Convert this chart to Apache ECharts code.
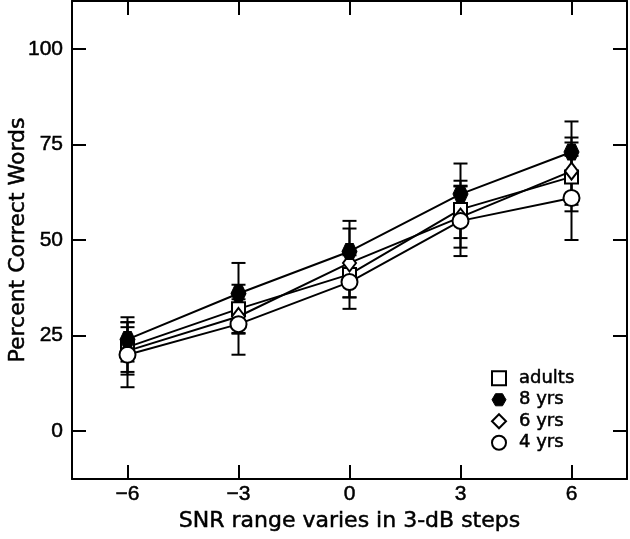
<!DOCTYPE html>
<html>
<head>
<meta charset="utf-8">
<script src="https://cdn.jsdelivr.net/npm/echarts@6/dist/echarts.min.js"></script>
<style>
html,body{margin:0;padding:0;background:#fff;}
#chart{width:630px;height:539px;}
</style>
</head>
<body>
<div id="chart"></div>
<script>
// ---- data ----
const xValues = [-6, -3, 0, 3, 6];
const xTicks = [-6, -3, 0, 3, 6];
const yTicks = [0, 25, 50, 75, 100];

const adults = [22, 32, 41, 58, 66.5];
const yrs8   = [24, 36, 47, 62, 73];
const yrs6   = [21, 30, 44, 56, 68];
const yrs4   = [20, 28, 39, 55, 61];

const adultsErr = [6.5, 6.3, 6, 7.5, 9];
const yrs8Err   = [5.8, 8, 8, 8, 8];
const yrs6Err   = [6.2, 4.5, 9, 8, 8.8];
const yrs4Err   = [8.5, 8, 7, 9.2, 11];

const groupNames = ['adults', '8 yrs', '6 yrs', '4 yrs'];

// ---- chart ----
const hexPath = 'path://M-5,-8.66 L5,-8.66 L10,0 L5,8.66 L-5,8.66 L-10,0 Z';
const FONT = 'DejaVu Sans';
const TICKFONT = 'Liberation Sans';

function pts(vals) { return xValues.map((x, i) => [x, vals[i]]); }
function errs(vals, e) { return xValues.map((x, i) => [x, vals[i] - e[i], vals[i] + e[i]]); }

function errRender(params, api) {
  const x = api.value(0);
  const lo = api.coord([x, api.value(1)]);
  const hi = api.coord([x, api.value(2)]);
  const w = 7;
  const st = { stroke: '#000', lineWidth: 2 };
  return {
    type: 'group',
    children: [
      { type: 'line', shape: { x1: lo[0], y1: lo[1], x2: hi[0], y2: hi[1] }, style: st },
      { type: 'line', shape: { x1: lo[0] - w, y1: lo[1], x2: lo[0] + w, y2: lo[1] }, style: st },
      { type: 'line', shape: { x1: hi[0] - w, y1: hi[1], x2: hi[0] + w, y2: hi[1] }, style: st }
    ]
  };
}

function errSeries(vals, e) {
  return {
    type: 'custom',
    renderItem: errRender,
    data: errs(vals, e),
    encode: { x: 0, y: [1, 2] },
    z: 1,
    silent: true
  };
}

const openStyle = { color: '#fff', borderColor: '#000', borderWidth: 2 };
const lineStyle = { color: '#000', width: 2 };

function lineSeries(name, vals, symbol, size, filled, z) {
  return {
    name: name,
    type: 'line',
    data: pts(vals),
    symbol: symbol,
    symbolSize: size,
    showAllSymbol: true,
    lineStyle: lineStyle,
    itemStyle: filled ? { color: '#000', borderColor: '#000', borderWidth: 1 } : openStyle,
    z: z
  };
}

const chart = echarts.init(document.getElementById('chart'), null, { renderer: 'canvas' });

const axisLine = { show: true, onZero: false, lineStyle: { color: '#000', width: 2 } };
const tickStyle = { color: '#000', width: 2 };
const heavy = { textBorderColor: '#000', textBorderWidth: 0.5 };

chart.setOption({
  animation: false,
  backgroundColor: '#fff',
  textStyle: { fontFamily: FONT, color: '#000' },
  grid: { left: 72, right: 3, top: 1, bottom: 60, containLabel: false, outerBoundsMode: 'none' },
  xAxis: [
    {
      type: 'value', min: -7.5, max: 7.5, position: 'bottom',
      name: 'SNR range varies in 3-dB steps', nameLocation: 'middle', nameGap: 31, nameMoveOverlap: false,
      nameTextStyle: Object.assign({ fontSize: 22, fontFamily: FONT, color: '#000' }, heavy),
      axisLine: axisLine,
      axisTick: { show: true, inside: true, length: 14, lineStyle: tickStyle, customValues: xTicks },
      axisLabel: Object.assign({ fontSize: 21, fontFamily: TICKFONT, color: '#000', margin: 5, customValues: xTicks,
                   formatter: v => (v < 0 ? '\u2212' + Math.abs(v) : String(v)) }, heavy),
      splitLine: { show: false }
    },
    {
      type: 'value', min: -7.5, max: 7.5, position: 'top',
      axisLine: axisLine,
      axisTick: { show: true, inside: true, length: 14, lineStyle: tickStyle, customValues: xTicks },
      axisLabel: { show: false },
      splitLine: { show: false }
    }
  ],
  yAxis: [
    {
      type: 'value', min: -12.5, max: 112.5, position: 'left',
      name: 'Percent Correct Words', nameLocation: 'middle', nameGap: 43, nameMoveOverlap: false,
      nameTextStyle: Object.assign({ fontSize: 22, fontFamily: FONT, color: '#000' }, heavy),
      axisLine: axisLine,
      axisTick: { show: true, inside: true, length: 14, lineStyle: tickStyle, customValues: yTicks },
      axisLabel: Object.assign({ fontSize: 21, fontFamily: TICKFONT, color: '#000', margin: 9, customValues: yTicks }, heavy),
      splitLine: { show: false }
    },
    {
      type: 'value', min: -12.5, max: 112.5, position: 'right',
      axisLine: axisLine,
      axisTick: { show: true, inside: true, length: 14, lineStyle: tickStyle, customValues: yTicks },
      axisLabel: { show: false },
      splitLine: { show: false }
    }
  ],
  legend: {
    orient: 'vertical',
    left: 486, top: 364,
    itemWidth: 14, itemHeight: 14, itemGap: 3,
    textStyle: Object.assign({ fontSize: 18, fontFamily: FONT, color: '#000', padding: [0, 0, 0, 8] }, heavy),
    data: [
      { name: groupNames[0], icon: 'rect', itemStyle: { color: '#fff', borderColor: '#000', borderWidth: 2 } },
      { name: groupNames[1], icon: hexPath, itemStyle: { color: '#000', borderColor: '#000', borderWidth: 1 } },
      { name: groupNames[2], icon: 'diamond', itemStyle: { color: '#fff', borderColor: '#000', borderWidth: 2 } },
      { name: groupNames[3], icon: 'circle', itemStyle: { color: '#fff', borderColor: '#000', borderWidth: 2 } }
    ]
  },
  series: [
    errSeries(adults, adultsErr),
    errSeries(yrs8, yrs8Err),
    errSeries(yrs6, yrs6Err),
    errSeries(yrs4, yrs4Err),
    lineSeries(groupNames[0], adults, 'rect', 13, false, 3),
    lineSeries(groupNames[2], yrs6, 'diamond', [13, 17], false, 4),
    lineSeries(groupNames[3], yrs4, 'circle', 16, false, 5),
    lineSeries(groupNames[1], yrs8, hexPath, [15, 16], true, 6)
  ]
});
</script>
</body>
</html>
